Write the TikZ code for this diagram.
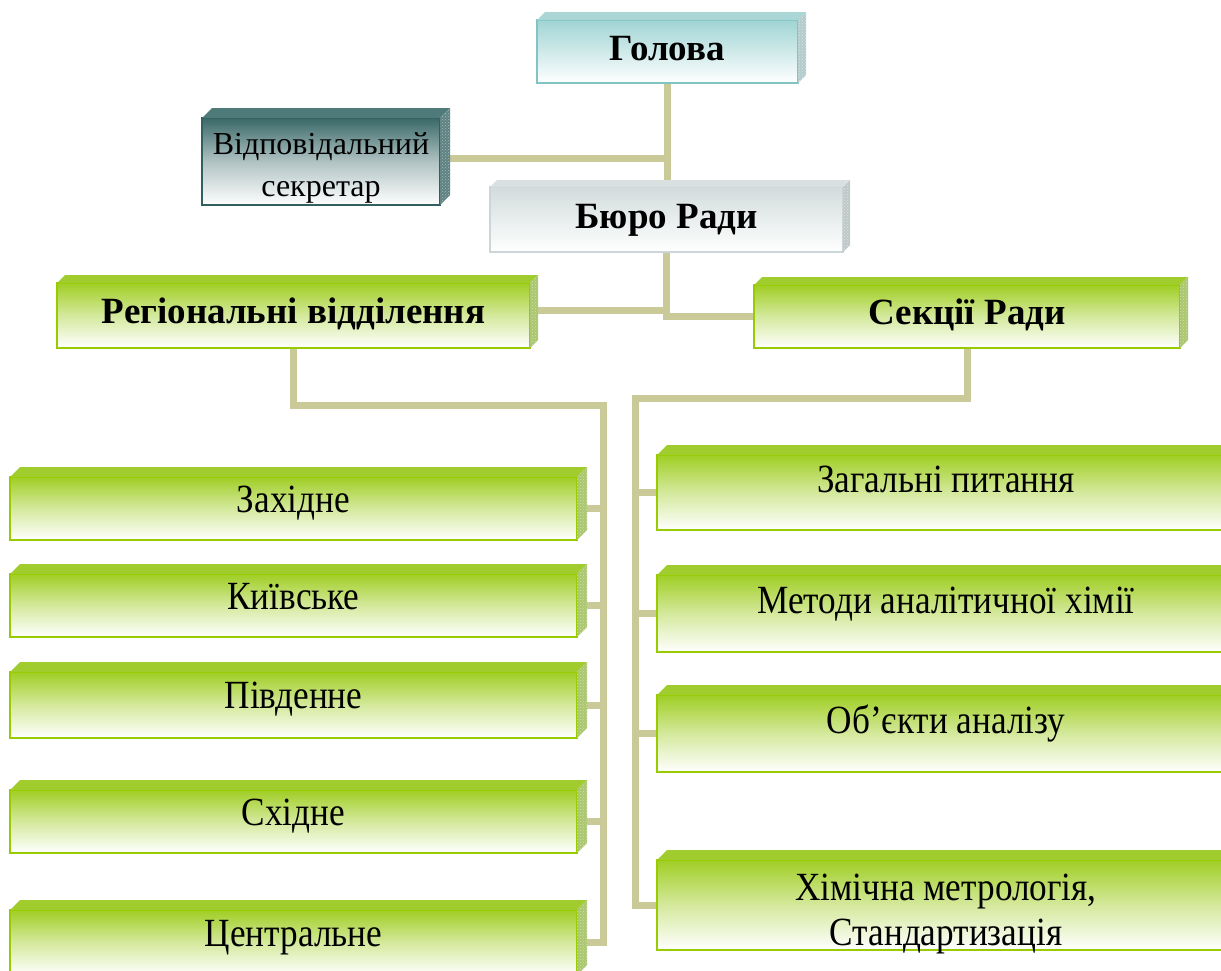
\documentclass[tikz,border=0pt]{standalone}
\usepackage{fontspec}
\setmainfont{Liberation Serif}
\newfontfamily\condfont{Liberation Serif}[FakeStretch=0.88]
\usetikzlibrary{calc,patterns}
\pgfdeclarelayer{bg}
\pgfsetlayers{bg,main}
\definecolor{connc}{RGB}{202,202,152}
\definecolor{grn}{RGB}{153,204,0}
\definecolor{grnface}{RGB}{160,206,36}
\definecolor{grntop}{RGB}{160,205,45}
\definecolor{grnside}{RGB}{170,198,110}
\definecolor{tealb}{RGB}{130,196,196}
\definecolor{tealface}{RGB}{160,212,212}
\definecolor{tealtop}{RGB}{170,214,214}
\definecolor{tealside}{RGB}{180,204,204}
\definecolor{dkb}{RGB}{50,95,95}
\definecolor{dkface}{RGB}{58,104,104}
\definecolor{dktop}{RGB}{78,122,122}
\definecolor{dkside}{RGB}{95,130,130}
\definecolor{grb}{RGB}{205,214,214}
\definecolor{grface}{RGB}{210,220,220}
\definecolor{grtop}{RGB}{216,224,224}
\definecolor{grside}{RGB}{192,200,200}
\newcommand\bevel[4]{%
  \fill[#3] (#1.north west) -- ++(#2,-#2) -- ($(#1.north east)+(#2,-#2)$) -- (#1.north east) -- cycle;
  \fill[#4] (#1.north east) -- ++(#2,-#2) -- ($(#1.south east)+(#2,-#2)$) -- (#1.south east) -- cycle;
  \fill[pattern=crosshatch dots, pattern color=white, opacity=0.45] (#1.north east) -- ++(#2,-#2) -- ($(#1.south east)+(#2,-#2)$) -- (#1.south east) -- cycle;
}
\newcommand\twolines[3]{\raisebox{#1}[\height][\depth]{\begin{tabular}{@{}c@{}}#2\\#3\end{tabular}}}
\begin{document}
\begin{tikzpicture}[x=1pt,y=-1pt,
  face/.style={rectangle, draw, line width=2pt, outer sep=0pt, inner sep=0pt, align=center,
    font=\condfont\fontsize{40}{45}\selectfont},
  boldface/.style={face, font=\fontsize{37}{43}\selectfont\bfseries},
  greenbox/.style={draw=grn, top color=grnface, bottom color=white, middle color=grnface!45!white},
  leftbox/.style={face, greenbox, minimum width=567pt, text height=27pt, text depth=20pt},
  rightbox/.style={face, greenbox, minimum width=578pt, text height=27pt, text depth=28pt},
  conn/.style={draw=connc, line width=7pt}]
\path[use as bounding box, clip] (0,0) rectangle (1221,970);

% top level
\node[boldface, draw=tealb, top color=tealface, bottom color=white, minimum width=261pt, minimum height=63pt,
  text height=25pt, text depth=8pt] (gol) at (667.5,51.5) {Голова};
\bevel{gol}{8}{tealtop}{tealside}
\node[face, draw=dkb, top color=dkface, bottom color=white, middle color=dkface!40!white,
  minimum width=238pt, minimum height=87pt, font=\fontsize{32}{42}\selectfont] (sec) at (321,161.5)
  {\twolines{-6pt}{Відповідальний}{секретар}};
\bevel{sec}{10}{dktop}{dkside}
\node[boldface, draw=grb, top color=grface, bottom color=white, minimum width=353pt, minimum height=65pt,
  text height=25pt, text depth=8pt] (buro) at (666.5,219.5) {Бюро Ради};
\bevel{buro}{7}{grtop}{grside}
\node[boldface, greenbox, minimum width=473pt, minimum height=65pt, text height=25pt, text depth=10pt] (reg) at (293.5,315.5) {Регіональні відділення};
\bevel{reg}{8}{grntop}{grnside}
\node[boldface, greenbox, minimum width=426pt, minimum height=63pt, text height=25pt, text depth=10pt] (sek) at (967,316.5) {Секції Ради};
\bevel{sek}{8}{grntop}{grnside}

% left column
\node[leftbox, minimum height=63pt] (zah) at (293.5,508.5) {Західне};
\bevel{zah}{10}{grntop}{grnside}
\node[leftbox, minimum height=63pt] (kyi) at (293.5,605.5) {Київське};
\bevel{kyi}{10}{grntop}{grnside}
\node[leftbox, minimum height=66pt] (pid) at (293.5,705) {Південне};
\bevel{pid}{10}{grntop}{grnside}
\node[leftbox, minimum height=63pt] (sch) at (293.5,821.5) {Східне};
\bevel{sch}{10}{grntop}{grnside}
\node[leftbox, minimum height=65pt] (cen) at (293.5,942.5) {Центральне};
\bevel{cen}{10}{grntop}{grnside}

% right column
\node[rightbox, minimum height=75pt] (zag) at (946,492.5) {Загальні питання};
\bevel{zag}{10}{grntop}{grnside}
\node[rightbox, minimum height=77pt] (met) at (946,613.5) {Методи аналітичної хімії};
\bevel{met}{10}{grntop}{grnside}
\node[rightbox, minimum height=77pt] (obj) at (946,733.5) {Об’єкти аналізу};
\bevel{obj}{10}{grntop}{grnside}
\node[face, greenbox, minimum width=578pt, minimum height=86pt] (him) at (946,905)
  {\twolines{-9pt}{Хімічна метрологія,}{Стандартизація}};
\bevel{him}{10}{grntop}{grnside}

\coordinate (lsp) at (603,405);
\coordinate (rsp) at (635,398);
\begin{pgfonlayer}{bg}
\fill[white] (0,0) rectangle (1221,970);
\draw[conn] (gol.south) -- (gol.south |- buro.north);
\draw[conn] ($(sec.east)+(0,-3)$) -- ($(sec.east -| gol.south)+(0,-3)$);
\draw[conn] ($(reg.east)+(0,-5)$) -| (buro.south);
\draw[conn] (buro.south) |- (sek.west);
\draw[conn] (reg.south) |- (lsp) |- (cen.east);
\draw[conn] (zah.east) -- (zah.east -| lsp);
\draw[conn] (kyi.east) -- (kyi.east -| lsp);
\draw[conn] (pid.east) -- (pid.east -| lsp);
\draw[conn] (sch.east) -- (sch.east -| lsp);
\draw[conn] (sek.south) |- (rsp) |- (him.west);
\draw[conn] (zag.west) -- (zag.west -| rsp);
\draw[conn] (met.west) -- (met.west -| rsp);
\draw[conn] (obj.west) -- (obj.west -| rsp);
\end{pgfonlayer}
\end{tikzpicture}
\end{document}
